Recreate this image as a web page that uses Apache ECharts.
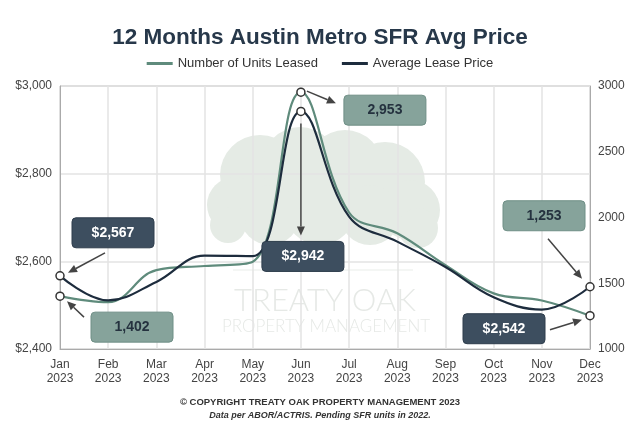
<!DOCTYPE html>
<html><head><meta charset="utf-8">
<script src="https://cdn.jsdelivr.net/npm/echarts@6/dist/echarts.min.js"></script>
<style>html,body{margin:0;padding:0;background:#fff}#c{width:640px;height:427px;background:#fff}</style>
</head><body><div id="c"></div>
<script>
const months = ['Jan','Feb','Mar','Apr','May','Jun','Jul','Aug','Sep','Oct','Nov','Dec'];
const year = '2023';
const avgLeasePrice = [2567,2511,2553,2613,2612,2942,2702,2645,2587,2518,2490,2542];
const unitsLeased = [1402,1356,1600,1631,1664,2953,2038,1880,1638,1423,1369,1253];
const priceAxis = {min:2400, max:3000, step:200};
const unitAxis = {min:1000, max:3000, step:500};
const markedIdx = [0,5,11];

const DARK = '#1d2c3d', GREEN = '#5f8b7c';
const FONT = '"Liberation Sans", Arial, sans-serif';
const chart = echarts.init(document.getElementById('c'), null, {renderer:'canvas'});

const symSize = (v, p) => markedIdx.includes(p.dataIndex) ? 8 : 0;

chart.setOption({
  backgroundColor:'transparent',
  animation:false,
  title:[
    {text:'12 Months Austin Metro SFR Avg Price', left:'center', top:21,
     textStyle:{fontFamily:FONT, fontSize:22.5, fontWeight:'bold', color:'#27384a'}},
    {text:'© COPYRIGHT TREATY OAK PROPERTY MANAGEMENT 2023', left:'center', top:392,
     textStyle:{fontFamily:FONT, fontSize:9.5, fontWeight:'bold', color:'#333'}},
    {text:'Data per ABOR/ACTRIS. Pending SFR units in 2022.', left:'center', top:406,
     textStyle:{fontFamily:FONT, fontSize:9, fontWeight:'bold', fontStyle:'italic', color:'#333'}}
  ],
  legend:{top:52, left:'center', itemWidth:26, itemHeight:3, itemGap:24, icon:'rect',
    data:[{name:'Number of Units Leased', itemStyle:{color:GREEN, borderWidth:0}},
          {name:'Average Lease Price', itemStyle:{color:DARK, borderWidth:0}}],
    textStyle:{fontFamily:FONT, fontSize:13, color:'#333'}},
  grid:{left:60, right:50, top:86, bottom:78, show:true, borderColor:'#aaa', borderWidth:1},
  xAxis:{type:'category', data:months, boundaryGap:false,
    axisLine:{lineStyle:{color:'#aaa'}}, axisTick:{show:false},
    axisLabel:{formatter:m=>m+'\n'+year, fontFamily:FONT, fontSize:12, color:'#444', lineHeight:14, margin:9},
    splitLine:{show:true, lineStyle:{color:'#e3e3e3', width:1.5}}},
  yAxis:[
    {type:'value', min:priceAxis.min, max:priceAxis.max, interval:priceAxis.step,
     axisLine:{show:true, lineStyle:{color:'#aaa'}}, axisTick:{show:false},
     axisLabel:{formatter:v=>'$'+v.toLocaleString('en-US'), fontFamily:FONT, fontSize:12, color:'#444', margin:8},
     splitLine:{show:true, lineStyle:{color:'#e3e3e3', width:1.5}}},
    {type:'value', min:unitAxis.min, max:unitAxis.max, interval:unitAxis.step,
     axisLine:{show:true, lineStyle:{color:'#aaa'}}, axisTick:{show:false},
     axisLabel:{formatter:v=>String(v), fontFamily:FONT, fontSize:12, color:'#444', margin:8},
     splitLine:{show:false}}
  ],
  series:[
    {name:'Number of Units Leased', type:'line', yAxisIndex:1, data:unitsLeased, smooth:0.4,
     symbol:'circle', symbolSize:symSize, showAllSymbol:true, z:3,
     lineStyle:{color:GREEN, width:2.2}, color:GREEN,
     itemStyle:{color:'#fff', borderColor:'#333', borderWidth:1.5}},
    {name:'Average Lease Price', type:'line', yAxisIndex:0, data:avgLeasePrice, smooth:0.4,
     symbol:'circle', symbolSize:symSize, showAllSymbol:true, z:4,
     lineStyle:{color:DARK, width:2.2}, color:DARK,
     itemStyle:{color:'#fff', borderColor:'#333', borderWidth:1.5}}
  ]
});

// Watermark (decorative logo) on a layer below the chart
const wm = [];
const TREE = '#e5ebe5';
[[260,175,40],[300,165,38],[345,168,38],[385,182,40],[410,210,30],[235,205,28],[320,210,35],[270,215,30],[370,215,30],[228,225,18],[418,228,20]]
  .forEach(c=>wm.push({type:'circle', zlevel:-1, shape:{cx:c[0],cy:c[1],r:c[2]}, style:{fill:TREE}, silent:true}));
wm.push({type:'line', zlevel:-1, shape:{x1:233,y1:270,x2:413,y2:270}, style:{stroke:'#e9ede9', lineWidth:1}});
wm.push({type:'text', zlevel:-1, x:325, y:301, style:{text:'TREATY OAK', align:'center', verticalAlign:'middle', font:'300 31px Lato, '+FONT, fill:'#e6e9e6'}});
wm.push({type:'text', zlevel:-1, x:326, y:327, style:{text:'PROPERTY MANAGEMENT', align:'center', verticalAlign:'middle', font:'300 17px Lato, '+FONT, fill:'#e6e9e6'}});

// Annotations computed from data via the chart's scales
function px(series, i){
  const yi = series === 'price' ? 0 : 1;
  const v = series === 'price' ? avgLeasePrice[i] : unitsLeased[i];
  return chart.convertToPixel({xAxisIndex:0, yAxisIndex:yi}, [months[i], v]);
}
function arrow(x1,y1,x2,y2){
  const a=Math.atan2(y2-y1,x2-x1), L=9, W=4;
  const bx=x2-L*Math.cos(a), by=y2-L*Math.sin(a);
  return [{type:'line', z:20, shape:{x1,y1,x2:bx,y2:by}, style:{stroke:'#444', lineWidth:1.5}},
    {type:'polygon', z:20, shape:{points:[[x2,y2],[bx+W*Math.sin(a),by-W*Math.cos(a)],[bx-W*Math.sin(a),by+W*Math.cos(a)]]}, style:{fill:'#444'}}];
}
function box(x,y,text,dark){
  return [{type:'rect', z:20, shape:{x,y,width:82,height:30,r:4},
      style:{fill:dark?'#3d4e5f':'#86a39b', stroke:dark?'#2e3d4c':'#6f8f86', lineWidth:1}},
    {type:'text', z:21, x:x+41, y:y+15, style:{text, align:'center', verticalAlign:'middle',
      font:'bold 14px '+FONT, fill:dark?'#fff':'#25323f'}}];
}
const fmtP = v=>'$'+v.toLocaleString('en-US');
const fmtU = v=>v.toLocaleString('en-US');
const notes = [
  // [series, index, text, dark, boxDx, boxDy, arrow start dx,dy, arrow end dx,dy]
  ['price', 0, fmtP(avgLeasePrice[0]), true, 12,-58, 45,-23, 8,-3],
  ['units', 0, fmtU(unitsLeased[0]), false, 31,16, 24,21, 7,5],
  ['price', 5, fmtP(avgLeasePrice[5]), true, -39,130, 0,12, 0,124],
  ['units', 5, fmtU(unitsLeased[5]), false, 43,3, 6,-1, 35,11],
  ['price', 11, fmtU(unitsLeased[11]), false, -87,-86, -42,-48, -8,-8],
  ['units', 11, fmtP(avgLeasePrice[11]), true, -127,-2, -40,14, -8,4]
];
const ann = [];
notes.forEach(n=>{
  const p = px(n[0], n[1]);
  ann.push(...box(p[0]+n[4], p[1]+n[5], n[2], n[3]));
  ann.push(...arrow(p[0]+n[6], p[1]+n[7], p[0]+n[8], p[1]+n[9]));
});
chart.setOption({graphic:[{type:'group', children:wm}, {type:'group', children:ann}]});
</script></body></html>
